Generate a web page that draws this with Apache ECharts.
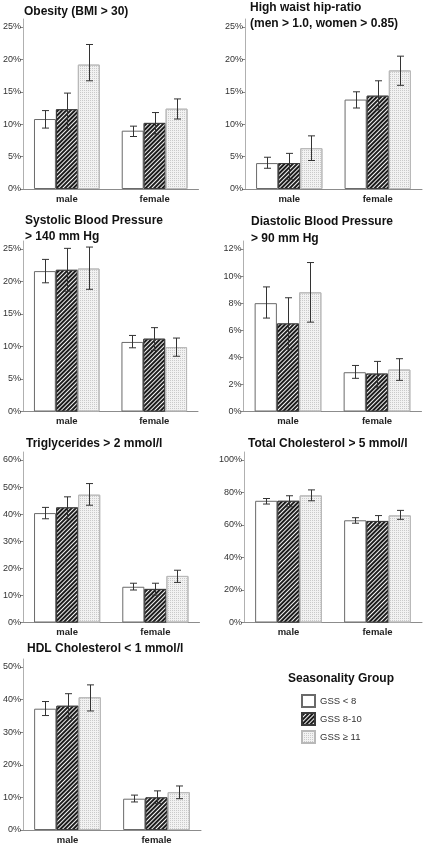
<!DOCTYPE html>
<html>
<head>
<meta charset="utf-8">
<script src="https://cdn.jsdelivr.net/npm/echarts@6/dist/echarts.min.js"></script>
<style>
  html, body { margin: 0; padding: 0; background: #ffffff; }
  #chart { width: 423px; height: 845px; }
</style>
</head>
<body>
<div id="chart"></div>
<script>
// ---------- data ----------
const categories = ['male', 'female'];
const groupNames = ['GSS < 8', 'GSS 8-10', 'GSS ≥ 11'];
const panelTitles = [
  'Obesity (BMI > 30)',
  'High waist hip-ratio\n(men > 1.0, women > 0.85)',
  'Systolic Blood Pressure\n> 140 mm Hg',
  'Diastolic Blood Pressure\n> 90 mm Hg',
  'Triglycerides > 2 mmol/l',
  'Total Cholesterol > 5 mmol/l',
  'HDL Cholesterol < 1 mmol/l'
];
const axisMax = [25, 25, 25, 12, 60, 100, 50];
const axisStep = [5, 5, 5, 2, 10, 20, 10];

// each array: one row per group, [male, female]
const obesityMean = [[10.8, 9.0], [12.3, 10.2], [19.2, 12.4]];
const obesityLow  = [[9.4, 8.1], [9.3, 8.5], [16.7, 10.8]];
const obesityHigh = [[12.1, 9.7], [14.8, 11.8], [22.3, 13.9]];

const waistMean = [[4.0, 13.8], [4.0, 14.4], [6.3, 18.3]];
const waistLow  = [[3.2, 12.5], [1.5, 12.2], [4.4, 16.0]];
const waistHigh = [[4.9, 15.0], [5.5, 16.7], [8.2, 20.5]];

const systolicMean = [[21.6, 10.7], [21.8, 11.2], [22.0, 9.9]];
const systolicLow  = [[19.8, 9.8], [18.5, 9.4], [18.8, 8.5]];
const systolicHigh = [[23.4, 11.7], [25.1, 12.9], [25.3, 11.3]];

const diastolicMean = [[8.0, 2.9], [6.5, 2.8], [8.8, 3.1]];
const diastolicLow  = [[6.9, 2.45], [4.6, 1.8], [6.6, 2.3]];
const diastolicHigh = [[9.2, 3.4], [8.4, 3.7], [11.0, 3.9]];

const trigMean = [[40.4, 13.2], [42.5, 12.4], [47.2, 17.2]];
const trigLow  = [[38.3, 12.0], [38.3, 10.1], [43.3, 14.8]];
const trigHigh = [[42.5, 14.5], [46.4, 14.5], [51.3, 19.3]];

const cholMean = [[74.9, 62.9], [74.9, 62.5], [78.2, 65.9]];
const cholLow  = [[72.9, 61.1], [71.2, 59.4], [74.9, 63.5]];
const cholHigh = [[76.3, 64.5], [78.0, 65.8], [81.6, 69.0]];

const hdlMean = [[37.2, 9.6], [38.1, 10.0], [40.7, 11.6]];
const hdlLow  = [[35.1, 8.6], [34.3, 8.1], [36.5, 9.6]];
const hdlHigh = [[39.4, 10.7], [41.8, 12.0], [44.5, 13.5]];

const panelMeans = [obesityMean, waistMean, systolicMean, diastolicMean, trigMean, cholMean, hdlMean];
const panelLows  = [obesityLow, waistLow, systolicLow, diastolicLow, trigLow, cholLow, hdlLow];
const panelHighs = [obesityHigh, waistHigh, systolicHigh, diastolicHigh, trigHigh, cholHigh, hdlHigh];

// ---------- layout / style ----------
// top/height describe the span from the top tick to the zero line
const gridLayout = [
  { left: 21.5, top: 27,  width: 177, height: 162 },
  { left: 245,  top: 27,  width: 177, height: 162 },
  { left: 21,   top: 249, width: 177, height: 162.5 },
  { left: 243.5,top: 249, width: 178, height: 162.5 },
  { left: 21.5, top: 460, width: 178, height: 162.5 },
  { left: 244,  top: 460, width: 178, height: 162.5 },
  { left: 23,   top: 667, width: 178, height: 164 }
];
const AXIS_OVERSHOOT = 8; // px the y axis line runs past the top tick
const titlePos = [
  { left: 24, top: 3 },
  { left: 250, top: -1 },
  { left: 25, top: 212 },
  { left: 251, top: 213.5 },
  { left: 26, top: 435 },
  { left: 248, top: 435 },
  { left: 27, top: 640 }
];
const FONT = '"Liberation Sans", Arial, sans-serif';
const CAT_GAP = 0.25;

const groupStyles = [
  { color: '#ffffff', borderColor: '#6a6a6a', borderWidth: 1 },
  { color: '#1c1c1c', borderColor: '#3a3a3a', borderWidth: 1,
    decal: { symbol: 'rect', symbolSize: 1, dashArrayX: [1, 0], dashArrayY: [1, 1.3], rotation: -Math.PI / 4, color: '#f4f4f4' } },
  { color: '#f2f2f2', borderColor: '#b8b8b8', borderWidth: 1,
    decal: { symbol: 'rect', symbolSize: 1, dashArrayX: [1, 1], dashArrayY: [1, 1], rotation: 0, color: '#cacaca' } }
];

const grids = [], xAxes = [], yAxes = [], series = [], titles = [];

panelTitles.forEach((t, p) => {
  const L = gridLayout[p];
  const extra = axisMax[p] * AXIS_OVERSHOOT / L.height;
  grids.push({ left: L.left, top: L.top - AXIS_OVERSHOOT, width: L.width, height: L.height + AXIS_OVERSHOOT });
  titles.push({
    text: t, left: titlePos[p].left, top: titlePos[p].top, padding: 0,
    textStyle: { fontFamily: FONT, fontSize: 12, fontWeight: 'bold', color: '#111', lineHeight: 16.5 }
  });
  xAxes.push({
    type: 'category', gridIndex: p, data: categories,
    axisLine: { lineStyle: { color: '#8c8c8c', width: 1 } },
    axisTick: { alignWithLabel: true, length: 4, lineStyle: { color: '#666' } },
    axisLabel: { fontFamily: FONT, fontSize: 9.5, fontWeight: 'bold', color: '#222', margin: 5 }
  });
  const tickVals = [];
  for (let v = 0; v <= axisMax[p] + 1e-9; v += axisStep[p]) tickVals.push(v);
  yAxes.push({
    type: 'value', gridIndex: p, min: 0, max: axisMax[p] + extra,
    splitLine: { show: false },
    axisLine: { show: true, lineStyle: { color: '#b0b0b0', width: 1 } },
    axisTick: { show: true, length: 3, customValues: tickVals, lineStyle: { color: '#888' } },
    axisLabel: { fontFamily: FONT, fontSize: 9, color: '#333', margin: 2, customValues: tickVals, formatter: '{value}%' }
  });
  for (let g = 0; g < 3; g++) {
    series.push({
      type: 'bar', name: groupNames[g], xAxisIndex: p, yAxisIndex: p,
      data: panelMeans[p][g],
      barGap: '0%', barCategoryGap: (CAT_GAP * 100) + '%',
      itemStyle: groupStyles[g],
      emphasis: { disabled: true },
      silent: true, animation: false, z: 2
    });
  }
  const errData = [];
  for (let g = 0; g < 3; g++) {
    for (let c = 0; c < categories.length; c++) {
      errData.push([c, panelLows[p][g][c], panelHighs[p][g][c], g]);
    }
  }
  series.push({
    type: 'custom', xAxisIndex: p, yAxisIndex: p, data: errData,
    encode: { x: 0, y: [1, 2] }, silent: true, animation: false, z: 5,
    renderItem: function (params, api) {
      const c = api.value(0), lo = api.value(1), hi = api.value(2), g = api.value(3);
      const top = api.coord([c, hi]);
      const bot = api.coord([c, lo]);
      const band = api.size([1, 0])[0];
      const bw = band * (1 - CAT_GAP) / 3;
      const x = Math.round(top[0] + (g - 1) * bw) + 0.5;
      const cap = 3.5;
      const st = { stroke: '#333', lineWidth: 1 };
      return {
        type: 'group',
        children: [
          { type: 'line', shape: { x1: x, y1: top[1], x2: x, y2: bot[1] }, style: st },
          { type: 'line', shape: { x1: x - cap, y1: top[1], x2: x + cap, y2: top[1] }, style: st },
          { type: 'line', shape: { x1: x - cap, y1: bot[1], x2: x + cap, y2: bot[1] }, style: st }
        ]
      };
    }
  });
});

titles.push({
  text: 'Seasonality Group', left: 288, top: 672, padding: 0,
  textStyle: { fontFamily: FONT, fontSize: 12, fontWeight: 'bold', color: '#111', lineHeight: 14 }
});

const chart = echarts.init(document.getElementById('chart'), null, { renderer: 'canvas' });
chart.setOption({
  animation: false,
  backgroundColor: '#ffffff',
  title: titles,
  legend: {
    data: groupNames, orient: 'vertical', left: 301, top: 694,
    icon: 'rect', itemWidth: 13, itemHeight: 12, itemGap: 4, padding: 0,
    selectedMode: false,
    textStyle: { fontFamily: FONT, fontSize: 9.5, color: '#333' }
  },
  grid: grids,
  xAxis: xAxes,
  yAxis: yAxes,
  series: series
});
</script>
</body>
</html>
